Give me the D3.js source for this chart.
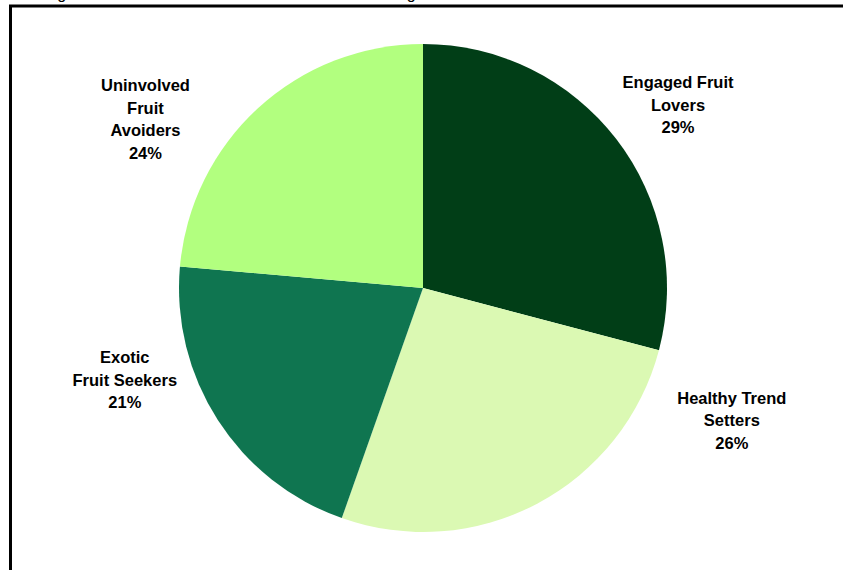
<!DOCTYPE html>
<html>
<head>
<meta charset="utf-8">
<script src="https://cdn.jsdelivr.net/npm/d3@7"></script>
<style>
  html, body { margin: 0; padding: 0; background: #fff; }
  svg { display: block; font-family: Arial, "Liberation Sans", sans-serif; }
</style>
</head>
<body>
<div id="chart"></div>
<script>
const width = 843;
const height = 570;

// segments, clockwise from 12 o'clock
const segments = ["Engaged Fruit Lovers", "Healthy Trend Setters", "Exotic Fruit Seekers", "Uninvolved Fruit Avoiders"];
const shares = [29.1, 26.3, 21.0, 23.6];
const labelLines = [
  ["Engaged Fruit", "Lovers"],
  ["Healthy Trend", "Setters"],
  ["Exotic", "Fruit Seekers"],
  ["Uninvolved", "Fruit", "Avoiders"]
];
const colors = ["#013e17", "#dbf9b3", "#0f7550", "#b2ff7f"];

const title = "Figure 5: Consumer Attitude Based Fruit Market Segments";

const cx = 423, cy = 288, radius = 244;
// label placement (angle in degrees from 12 o'clock, distance from centre)
const labelAngle = [54.3, 113.2, 252.9, 301.35];
const labelDist = [314, 336, 312, 325];

const svg = d3
  .select("#chart")
  .append("svg")
  .attr("width", width)
  .attr("height", height);

// title, mostly cut off above the frame like the original
svg
  .append("text")
  .attr("x", 44)
  .attr("y", -1)
  .attr("font-size", 16)
  .attr("fill", "#000")
  .text(title);

// frame (only top and left edges are visible)
svg
  .append("path")
  .attr("d", `M10.5,${height + 5} V6 H${width + 5}`)
  .attr("fill", "none")
  .attr("stroke", "#000")
  .attr("stroke-width", 3);

const color = d3.scaleOrdinal().domain(segments).range(colors);

const pie = d3
  .pie()
  .sort(null)
  .value((d) => d.value);

const data = segments.map((s, i) => ({
  name: s,
  value: shares[i],
  lines: labelLines[i].concat([Math.round(shares[i]) + "%"]),
  i
}));
const arcs = pie(data);

const arc = d3.arc().innerRadius(0).outerRadius(radius);

const g = svg.append("g").attr("transform", `translate(${cx},${cy})`);

g.selectAll("path.slice")
  .data(arcs)
  .join("path")
  .attr("class", "slice")
  .attr("d", arc)
  .attr("fill", (d) => color(d.data.name));

const lineHeight = 22.5;

const labels = g
  .selectAll("text.label")
  .data(arcs)
  .join("text")
  .attr("class", "label")
  .attr("text-anchor", "middle")
  .attr("font-weight", 700)
  .attr("font-size", 16.5)
  .attr("fill", "#000")
  .attr("transform", (d) => {
    const a = (labelAngle[d.data.i] * Math.PI) / 180;
    const r = labelDist[d.data.i];
    const n = d.data.lines.length;
    const x = r * Math.sin(a);
    const y = -r * Math.cos(a) - ((n - 1) * lineHeight) / 2 + 6;
    return `translate(${x},${y})`;
  });

labels
  .selectAll("tspan")
  .data((d) => d.data.lines)
  .join("tspan")
  .attr("x", 0)
  .attr("dy", (d, i) => (i === 0 ? 0 : lineHeight))
  .text((d) => d);
</script>
</body>
</html>
